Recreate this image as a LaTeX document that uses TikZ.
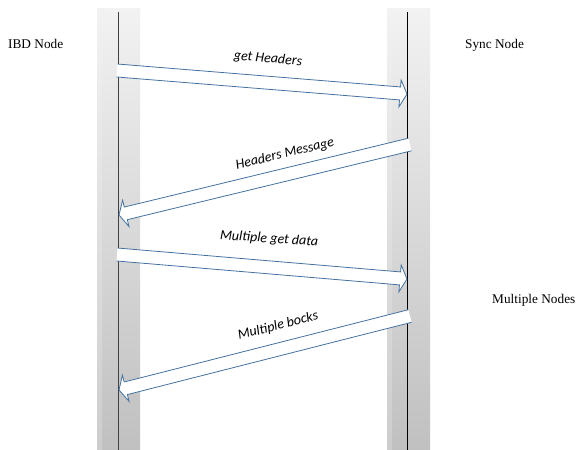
\documentclass[tikz,border=0pt]{standalone}
\usepackage{fontspec}
\setmainfont{Liberation Serif}
\newfontfamily\msgfont{Carlito}
\usetikzlibrary{calc}

\definecolor{arrowblue}{RGB}{68,114,160}
\definecolor{bartop}{RGB}{242,242,242}
\definecolor{barbot}{RGB}{192,192,192}

\tikzset{
  lifebar/.style={draw=none, inner sep=0pt, minimum width=43pt, minimum height=442pt,
    anchor=north, top color=bartop, bottom color=barbot},
  barstrip/.style={draw=none, inner sep=0pt, minimum width=5pt, minimum height=442pt,
    anchor=north west, top color=bartop, bottom color=barbot!80!white},
  lifeline/.style={line width=1pt},
  roletext/.style={font=\fontsize{13.3}{15}\selectfont, anchor=base west, inner sep=0pt},
  msgtext/.style={font=\msgfont\itshape\fontsize{14}{16}\selectfont, inner sep=0pt},
  arrowbody/.style={fill=white},
  arrowedge/.style={draw=arrowblue, line width=0.8pt, line join=miter},
}

% Wide block arrow from tail #1 to tip #2; the tail end is left without an outline
\newcommand\blockarrow[2]{%
  \coordinate (ba-back) at ($(#2)!7pt!(#1)$);
  \fill[arrowbody] ($(#1)!6.5pt!90:(#2)$) -- ($(ba-back)!6.5pt!90:(#2)$)
    -- ($(ba-back)!13.5pt!90:(#2)$) -- (#2) -- ($(ba-back)!13.5pt!-90:(#2)$)
    -- ($(ba-back)!6.5pt!-90:(#2)$) -- ($(#1)!6.5pt!-90:(#2)$) -- cycle;
  \draw[arrowedge] ($(#1)!6.5pt!90:(#2)$) -- ($(ba-back)!6.5pt!90:(#2)$)
    -- ($(ba-back)!13.5pt!90:(#2)$) -- (#2) -- ($(ba-back)!13.5pt!-90:(#2)$)
    -- ($(ba-back)!6.5pt!-90:(#2)$) -- ($(#1)!6.5pt!-90:(#2)$);
}

\begin{document}
\begin{tikzpicture}[x=1pt, y=-1pt]
  \useasboundingbox (0,0) rectangle (576,450);

  % lifeline bars
  \node[lifebar] (ibdbar) at (118.5,8) {};
  \node[barstrip] (ibdstrip) at (97,8) {};
  \node[lifebar] (syncbar) at (408.5,8) {};
  \node[barstrip] (syncstrip) at (387,8) {};

  % lifelines
  \coordinate (ibdtop) at (118.5,12);
  \coordinate (ibdbot) at (118.5,450);
  \coordinate (synctop) at (407,12);
  \coordinate (syncbot) at (407,450);
  \draw[lifeline, black!75] (ibdtop) -- (ibdbot);
  \draw[lifeline, black] (synctop) -- (syncbot);

  % role labels
  \node[roletext] (ibd) at (8,48) {IBD Node};
  \node[roletext] (sync) at (465,48) {Sync Node};
  \node[roletext] (multi) at (492,303) {Multiple Nodes};

  % message arrows
  \coordinate (m1tail) at (117,70.5);
  \coordinate (m1tip) at (407,94);
  \coordinate (m2tail) at (410,144.5);
  \coordinate (m2tip) at (119,215);
  \coordinate (m3tail) at (117,254.5);
  \coordinate (m3tip) at (407,279);
  \coordinate (m4tail) at (410,316);
  \coordinate (m4tip) at (119,390);
  \blockarrow{m1tail}{m1tip}
  \blockarrow{m2tail}{m2tip}
  \blockarrow{m3tail}{m3tip}
  \blockarrow{m4tail}{m4tip}

  % message labels
  \node[msgtext, rotate=-4.7] (l1) at (268,59) {get Headers};
  \node[msgtext, rotate=13.5] (l2) at (285,154) {Headers Message};
  \node[msgtext, rotate=-4] (l3) at (269,239) {Multiple get data};
  \node[msgtext, rotate=14.3] (l4) at (278,326) {Multiple bocks};
\end{tikzpicture}
\end{document}
